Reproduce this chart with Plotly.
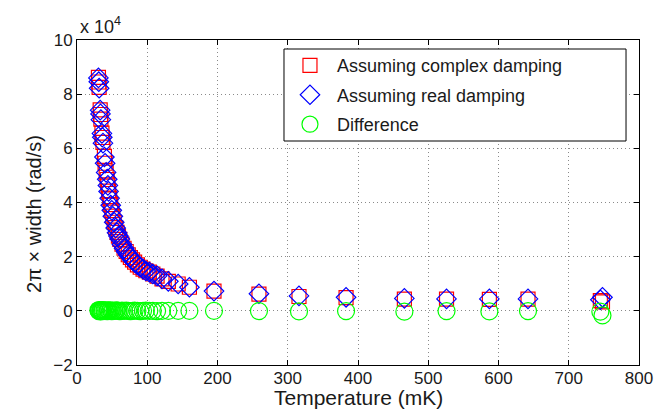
import plotly.graph_objects as go

# Temperature (mK)
temperature = [30.5, 31, 31.5, 33, 33.5, 34, 35.5, 36, 37, 39,
               40, 41.5, 43, 44, 45, 46.5, 48, 49.5, 51, 53,
               55, 57, 59, 61, 64, 67, 70, 73, 76, 79,
               82, 86, 90, 94, 98, 103, 108, 114, 121, 130,
               144, 160, 195, 259, 316, 383, 466, 526, 587, 642,
               745, 748]

# 2*pi*width in units of 1e4 rad/s
complex_damping = [8.62, 8.45, 8.25, 7.42, 7.25, 7.08, 6.56, 6.40, 6.22, 5.70,
                   5.45, 5.12, 4.85, 4.65, 4.42, 4.16, 3.92, 3.70, 3.50, 3.27,
                   3.07, 2.90, 2.76, 2.64, 2.46, 2.31, 2.19, 2.07, 1.97, 1.88,
                   1.80, 1.70, 1.61, 1.54, 1.48, 1.43, 1.36, 1.28, 1.18, 1.09,
                   0.99, 0.87, 0.73, 0.62, 0.53, 0.49, 0.43, 0.43, 0.42, 0.43,
                   0.38, 0.33]

real_damping = [8.60, 8.46, 8.22, 7.41, 7.27, 7.06, 6.55, 6.41, 6.19, 5.68,
                5.45, 5.11, 4.86, 4.63, 4.41, 4.16, 3.90, 3.71, 3.49, 3.27,
                3.06, 2.88, 2.76, 2.65, 2.45, 2.31, 2.18, 2.07, 1.98, 1.88,
                1.79, 1.70, 1.62, 1.54, 1.47, 1.43, 1.36, 1.29, 1.18, 1.09,
                0.99, 0.87, 0.73, 0.63, 0.55, 0.50, 0.46, 0.44, 0.44, 0.44,
                0.41, 0.50]

difference = [0.02, -0.01, 0.03, 0.01, -0.02, 0.02, 0.01, -0.01, 0.03, 0.02,
              0.00, 0.01, -0.01, 0.02, 0.01, 0.00, 0.02, -0.01, 0.01, 0.00,
              0.01, 0.02, 0.00, -0.01, 0.01, 0.00, 0.01, 0.00, -0.01, 0.00,
              0.01, 0.00, -0.01, 0.00, 0.01, 0.00, 0.00, -0.01, 0.00, 0.00,
              0.00, 0.00, 0.00, -0.01, -0.02, -0.01, -0.03, -0.01, -0.02, -0.01,
              -0.03, -0.17]

x_ticks = [0, 100, 200, 300, 400, 500, 600, 700, 800]
y_ticks = [-2, 0, 2, 4, 6, 8, 10]

FONT = "Liberation Sans, Arial, Helvetica, sans-serif"
TXT = "#1a1a1a"

fig = go.Figure()
fig.add_trace(go.Scatter(
    x=temperature, y=complex_damping, mode="markers",
    name="Assuming complex damping", legendgroup="a",
    marker=dict(symbol="square-open", size=14, color="#ff0000",
                line=dict(width=1.2, color="#ff0000"))))
fig.add_trace(go.Scatter(
    x=temperature, y=real_damping, mode="markers",
    name="Assuming real damping", legendgroup="b",
    marker=dict(symbol="diamond-open", size=15, color="#0000ff",
                line=dict(width=1.2, color="#0000ff"))))
fig.add_trace(go.Scatter(
    x=temperature, y=difference, mode="markers",
    name="Difference", legendgroup="c",
    marker=dict(symbol="circle-open", size=17, color="#00ff00",
                line=dict(width=1.2, color="#00ff00"))))

axis_common = dict(
    showline=True, linecolor="black", linewidth=1, mirror="ticks",
    ticks="inside", ticklen=5, tickcolor="black", tickwidth=1,
    showgrid=True, gridcolor="#8a8a8a", griddash="1px,3px", gridwidth=1,
    zeroline=False, automargin=False,
    tickfont=dict(family=FONT, size=17, color=TXT),
)

fig.update_layout(
    width=664, height=409,
    margin=dict(l=69, r=33, t=32, b=52, autoexpand=False),
    paper_bgcolor="white", plot_bgcolor="white",
    font=dict(family=FONT, color=TXT),
    xaxis=dict(range=[0, 800], tickvals=x_ticks, ticklabelstandoff=-2,
               **axis_common),
    yaxis=dict(range=[-2, 10], tickvals=y_ticks, **axis_common),
    showlegend=True,
    legend=dict(x=0.3665, y=0.978, xanchor="left", yanchor="top",
                bgcolor="rgba(0,0,0,0)", borderwidth=0,
                font=dict(family=FONT, size=18, color=TXT),
                itemwidth=44, tracegroupgap=3),
    shapes=[dict(type="rect", xref="paper", yref="paper",
                 x0=0.3683, x1=0.9769, y0=0.6892, y1=0.9723,
                 fillcolor="white", line=dict(color="black", width=1),
                 layer="above")],
    annotations=[
        dict(text="Temperature (mK)", xref="paper", yref="paper",
             x=0.5, y=0.0, yshift=-32, xanchor="center", yanchor="middle",
             showarrow=False, font=dict(family=FONT, size=21, color=TXT)),
        dict(text="2π × width (rad/s)", xref="paper", yref="paper",
             x=-0.0765, y=0.465, xanchor="center", yanchor="middle",
             textangle=-90, showarrow=False,
             font=dict(family=FONT, size=20, color=TXT)),
        dict(text="x 10<sup>4</sup>", xref="paper", yref="paper",
             x=0.002, y=1.0, yshift=1, xanchor="left", yanchor="bottom",
             showarrow=False, font=dict(family=FONT, size=18, color=TXT)),
    ],
)

fig.write_html("out.html")
